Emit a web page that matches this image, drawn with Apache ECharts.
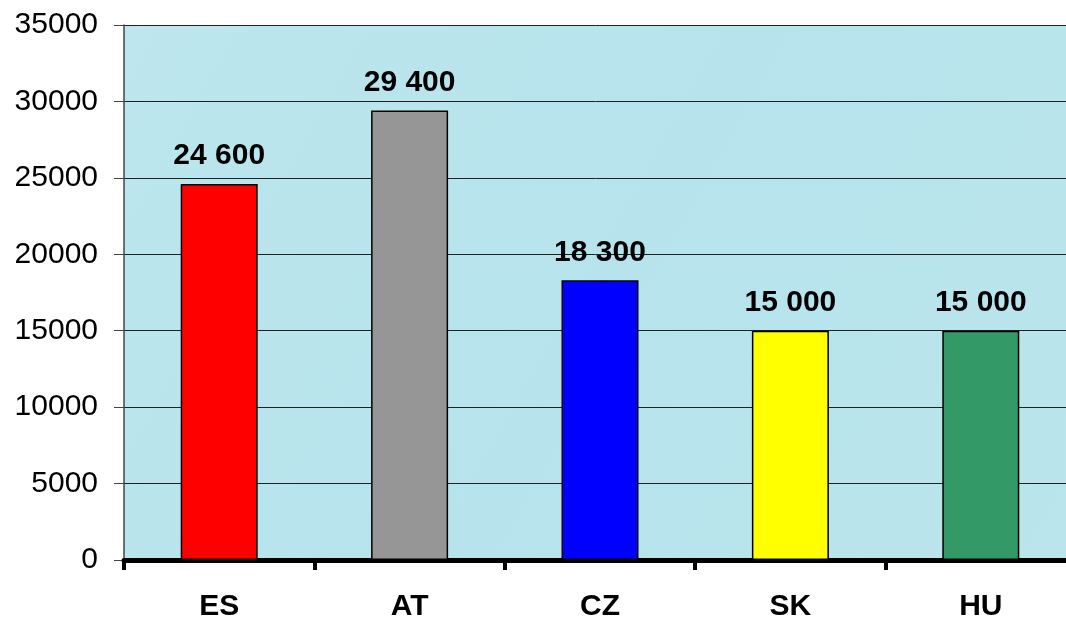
<!DOCTYPE html>
<html>
<head>
<meta charset="utf-8">
<script src="https://cdn.jsdelivr.net/npm/echarts@6/dist/echarts.min.js"></script>
<style>
html,body{margin:0;padding:0;background:#fff;}
#chart{width:1066px;height:620px;}
</style>
</head>
<body>
<div id="chart"></div>
<script>
const categories = ['ES', 'AT', 'CZ', 'SK', 'HU'];
const values = [24600, 29400, 18300, 15000, 15000];
const barColors = ['#FF0000', '#969696', '#0000FF', '#FFFF00', '#339966'];
const yTicks = [0, 5000, 10000, 15000, 20000, 25000, 30000, 35000];

const chart = echarts.init(document.getElementById('chart'), null, {renderer: 'canvas'});
const fmt = v => String(v).replace(/\B(?=(\d{3})+(?!\d))/g, ' ');
const FONT = '"Liberation Sans", Arial, sans-serif';

chart.setOption({
  animation: false,
  backgroundColor: '#ffffff',
  textStyle: {fontFamily: FONT},
  grid: {
    left: 124, top: 25, width: 952, bottom: 60,
    outerBoundsMode: 'none',
    containLabel: false,
    show: true,
    backgroundColor: new echarts.graphic.LinearGradient(0, 0, 1, 1, [
      {offset: 0, color: '#bde6ee'},
      {offset: 0.5, color: '#b6e3ec'},
      {offset: 1, color: '#bbe5ed'}
    ]),
    borderWidth: 0
  },
  xAxis: {
    type: 'category',
    data: categories,
    axisLine: {show: true, lineStyle: {color: '#000', width: 5}},
    axisTick: {show: true, length: 10, lineStyle: {color: '#000', width: 4}},
    axisLabel: {color: '#000', fontSize: 30, fontWeight: 'bold', margin: 32, fontFamily: FONT},
    splitLine: {show: false}
  },
  yAxis: {
    type: 'value',
    min: yTicks[0], max: yTicks[yTicks.length - 1], interval: 5000,
    axisLine: {show: true, lineStyle: {color: '#444', width: 1.5}},
    axisTick: {show: true, length: 10, lineStyle: {color: '#444', width: 1}},
    axisLabel: {color: '#000', fontSize: 30, margin: 26, fontFamily: FONT,
      formatter: v => String(v)},
    splitLine: {show: true, lineStyle: {color: '#222', width: 1}}
  },
  series: [{
    type: 'bar',
    barWidth: 77,
    data: values.map((v, i) => ({value: v, itemStyle: {color: barColors[i]}})),
    itemStyle: {borderColor: '#000', borderWidth: 1.5},
    label: {
      show: true, position: 'top', distance: 13,
      color: '#000', fontSize: 30, fontWeight: 'bold', fontFamily: FONT,
      formatter: p => fmt(p.value)
    }
  }]
});
</script>
</body>
</html>
